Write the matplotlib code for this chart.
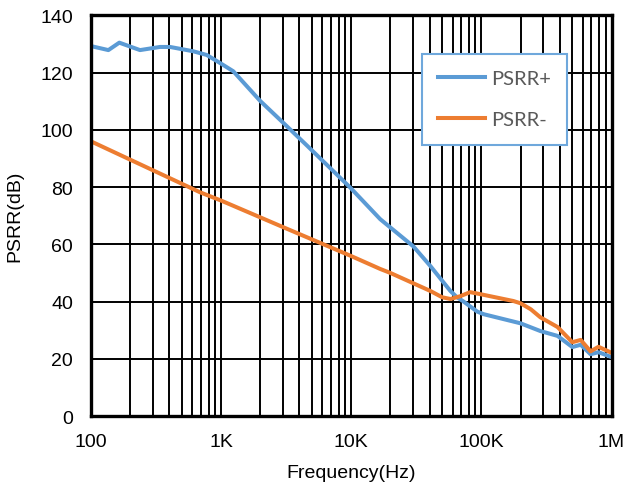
import numpy as np
import matplotlib
matplotlib.use("Agg")
import matplotlib.pyplot as plt
from matplotlib.ticker import FixedLocator, LogLocator, NullFormatter

plt.rcParams['font.family'] = ['Liberation Sans', 'DejaVu Sans']

# PSRR+ trace (blue)
pos_freq = [100, 136, 165, 238, 339, 405, 609, 775, 980, 1240, 2000, 3000, 4600,
            9800, 16700, 30000, 40600, 57800, 65000, 72000, 93000, 104000, 200000,
            284000, 385000, 500000, 580000, 690000, 795000, 1000000]
pos_db = [129.3, 127.9, 130.5, 127.9, 129.0, 129.0, 127.5, 126.2, 123.4, 120.5, 110.1,
          102.5, 94.4, 79.9, 68.8, 59.3, 52.4, 43.7, 41.5, 40.2, 36.5, 35.6, 32.4,
          29.7, 28.0, 24.1, 24.9, 21.6, 22.3, 20.6]

# PSRR- trace (orange)
neg_freq = [100, 689, 1000, 3000, 10000, 16700, 20000, 40600, 50000, 58000, 69000,
            82000, 98000, 176000, 200000, 240000, 284000, 385000, 500000, 580000,
            690000, 795000, 1000000]
neg_db = [96.0, 78.2, 75.3, 66.0, 55.9, 51.4, 50.0, 43.7, 41.5, 40.9, 41.9, 43.3,
          42.6, 40.2, 39.4, 37.3, 34.5, 31.1, 25.8, 26.6, 22.6, 24.2, 22.1]

x_ticks = [100, 1e3, 1e4, 1e5, 1e6]
x_labels = ["100", "1K", "10K", "100K", "1M"]
y_ticks = [0, 20, 40, 60, 80, 100, 120, 140]

fig = plt.figure(figsize=(6.25, 4.89), dpi=100)
ax = fig.add_axes([0.1456, 0.1472, 0.8328, 0.8191])

ax.plot(pos_freq, pos_db, color="#5B9BD5", lw=2.9, label="PSRR+", zorder=3)
ax.plot(neg_freq, neg_db, color="#ED7D31", lw=2.9, label="PSRR-", zorder=3)

ax.set_xscale("log")
ax.set_xlim(100, 1e6)
ax.set_ylim(0, 140)
ax.xaxis.set_major_locator(FixedLocator(x_ticks))
ax.set_xticklabels(x_labels)
ax.xaxis.set_minor_locator(LogLocator(base=10, subs=np.arange(2, 10)))
ax.xaxis.set_minor_formatter(NullFormatter())
ax.set_yticks(y_ticks)

ax.grid(True, which="both", axis="x", color="black", lw=1.4)
ax.grid(True, which="major", axis="y", color="black", lw=1.4)
ax.set_axisbelow(True)

ax.tick_params(which="both", length=0, labelsize=14)
ax.tick_params(axis="y", pad=13)
ax.tick_params(axis="x", pad=12)
for s in ax.spines.values():
    s.set_linewidth(2.4)
    s.set_zorder(4)

ax.set_xlabel("Frequency(Hz)", fontsize=14, labelpad=10)
ax.set_ylabel("PSRR(dB)", fontsize=14, labelpad=12)

leg = ax.legend(loc="upper left", bbox_to_anchor=(0.635, 0.904), borderaxespad=0,
                fancybox=False, framealpha=1, edgecolor="#6FA8DC",
                prop={"family": ["Lato", "DejaVu Sans"], "size": 14.5},
                handlelength=2.35, labelspacing=1.2,
                handletextpad=0.3, borderpad=0.8)
leg.get_frame().set_linewidth(1.5)
for t in leg.get_texts():
    t.set_color("#595959")

fig.savefig("out.png", dpi=100)
